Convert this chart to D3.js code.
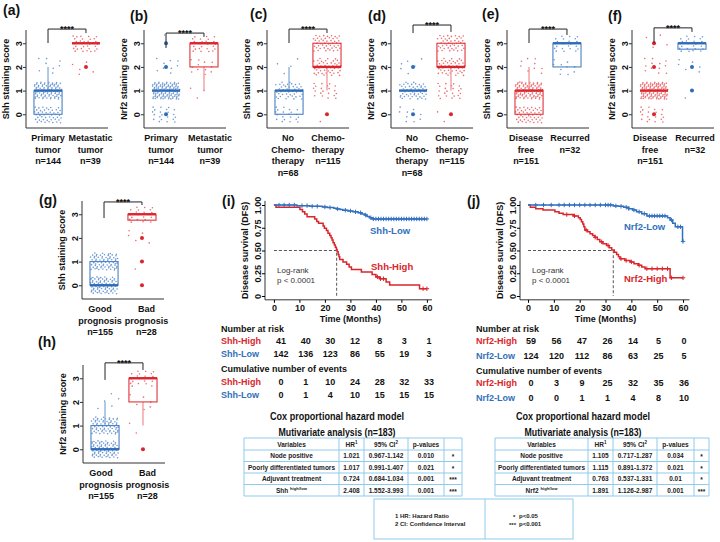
<!DOCTYPE html>
<html><head><meta charset="utf-8">
<script src="https://cdn.jsdelivr.net/npm/d3@7/dist/d3.min.js"></script>
<style>html,body{margin:0;padding:0;background:#fff;}svg{display:block}</style>
</head><body>
<svg id="chart" width="720" height="542"></svg>
<script>
// ================= DATA =================
const scoreLevels = [0, 1, 2, 3];
const scoreTicks = [0, 1, 2, 3];
// number of patients at each staining score (0,1,2,3)
const shhPrimary = [48, 88, 8, 0],  shhMetastatic = [0, 0, 6, 33];
const nrfPrimary = [22, 112, 9, 1], nrfMetastatic = [0, 3, 12, 24];
const shhNoChemo = [20, 44, 4, 0],  shhChemo = [2, 20, 45, 48];
const nrfNoChemo = [10, 52, 6, 0],  nrfChemo = [3, 22, 45, 45];
const shhFree = [50, 92, 9, 0],     shhRecurred = [0, 0, 10, 22];
const nrfFree = [20, 115, 12, 4],   nrfRecurred = [0, 2, 6, 24];
const shhGood = [80, 75, 0, 0],     shhBad = [1, 1, 5, 21];
const nrfGood = [80, 70, 5, 0],     nrfBad = [1, 2, 6, 19];

// Kaplan-Meier: [month, survival] steps
const kmMonths = [0, 10, 20, 30, 40, 50, 60];
const survTicks = [0, 0.25, 0.5, 0.75, 1];
const shhHighSteps = [[0,1],[0.8,0.975],[10.2,0.95],[11.2,0.925],[12.1,0.9],[13,0.87],[16,0.845],[16.8,0.82],[17.5,0.8],[19.3,0.77],[19.8,0.745],[20.6,0.72],[21.2,0.69],[21.9,0.665],[22.4,0.64],[22.8,0.615],[23.2,0.585],[23.7,0.56],[24.1,0.535],[24.5,0.51],[24.8,0.485],[25.2,0.455],[25.5,0.43],[25.8,0.4],[27.1,0.375],[28.5,0.35],[29.5,0.32],[30.4,0.29],[34.3,0.265],[38.5,0.235],[40,0.21],[41.5,0.19],[44,0.155],[45.4,0.12],[57.1,0.08]];
const shhHighCensor = [40.6, 41.8, 43, 58.5, 60];
const shhLowSteps = [[0,1],[9,0.993],[14,0.986],[19,0.979],[21,0.972],[23.5,0.965],[24.5,0.957],[26,0.95],[27,0.943],[29,0.935],[31,0.925],[33,0.915],[34.5,0.9],[35.5,0.89],[36.5,0.875],[37.5,0.86],[38.5,0.847]];
const shhLowCensor = [2,4,6,8,11,13,15,17,20,22,25,28,30,32,34,36,38,39,40,41,42,43,44,45,46,47,48,49,50,51,52,53,54,55,56,57,58,59,60];
const nrfHighSteps = [[0,1],[0.9,0.975],[3,0.96],[5.8,0.945],[10.4,0.925],[12,0.91],[13.6,0.895],[17.5,0.88],[19.5,0.86],[20.2,0.84],[20.7,0.815],[21.2,0.79],[21.6,0.76],[22,0.725],[23,0.705],[24,0.685],[25,0.665],[25.9,0.645],[26.8,0.62],[27.8,0.595],[29,0.575],[30.4,0.555],[31.4,0.53],[32.4,0.505],[33.4,0.48],[34.3,0.455],[35,0.43],[35.6,0.41],[37.5,0.39],[39.5,0.375],[41,0.355],[42.7,0.338],[44,0.32],[45.3,0.3],[55,0.2]];
const nrfHighCensor = [15,18,22.5,26,28.5,31,36,38,40,43,46,48,50,52,54,55.5,60];
const nrfLowSteps = [[0,1],[33,0.99],[35,0.985],[37,0.975],[39,0.96],[40.5,0.945],[42,0.926],[44,0.905],[46,0.88],[54,0.86],[55,0.835],[56,0.8],[57,0.76],[59.8,0.6]];
const nrfLowCensor = [3,6,9,12,14,16,18,20,22,24,26,28,30,31,32,34,36,38,39,41,43,45,47,48,49,50,51,52,53,55.5,58,59,60];
const medianMonths = [24.6, 33];

// Numbers at risk / cumulative events
const shhHighRisk = [41, 40, 30, 12, 8, 3, 1],  shhLowRisk = [142, 136, 123, 86, 55, 19, 3];
const shhHighEvents = [0, 1, 10, 24, 28, 32, 33], shhLowEvents = [0, 1, 4, 10, 15, 15, 15];
const nrfHighRisk = [59, 56, 47, 26, 14, 5, 0], nrfLowRisk = [124, 120, 112, 86, 63, 25, 5];
const nrfHighEvents = [0, 3, 9, 25, 32, 35, 36], nrfLowEvents = [0, 0, 1, 1, 4, 8, 10];

// Cox tables
const coxVariables = ['Node positive', 'Poorly differentiated tumors', 'Adjuvant treatment'];
const shhHR = ['1.021', '1.017', '0.724', '2.408'];
const shhCI = ['0.967-1.142', '0.991-1.407', '0.684-1.034', '1.552-3.993'];
const shhP = ['0.010', '0.021', '0.001', '0.001'];
const shhSig = ['*', '*', '***', '***'];
const nrfHR = ['1.105', '1.115', '0.763', '1.891'];
const nrfCI = ['0.717-1.287', '0.891-1.372', '0.537-1.331', '1.126-2.987'];
const nrfP = ['0.034', '0.021', '0.01', '0.001'];
const nrfSig = ['*', '*', '*', '***'];

// ================= STYLE =================
const FONT = '"Liberation Sans", Arial, Helvetica, sans-serif';
const COL = {
  b: {box: '#4a80c6', med: '#2f6cb8', pt: '#4a80c6', wh: '#7fa6d8'},
  r: {box: '#e0333a', med: '#d9252d', pt: '#e3474d', wh: '#f08d90'}
};
const RED = '#d8262d', BLUE = '#3270bd';
const TBL = '#8fcbea';

const svg = d3.select('#chart');

function txt(g, x, y, s, o = {}) {
  const t = g.append('text').attr('x', x).attr('y', y).text(s)
    .attr('font-size', o.size || 9).attr('font-weight', o.weight || 'bold')
    .attr('text-anchor', o.anchor || 'start').attr('fill', o.fill || '#111')
    .attr('font-family', FONT);
  if (o.rotate) t.attr('transform', `rotate(-90,${x},${y})`);
  if (o.len) t.attr('textLength', o.len).attr('lengthAdjust', 'spacingAndGlyphs');
  return t;
}

// ================= BOX PLOTS =================
const boxPanels = [
  {tag:'(a)', tx:3, ty:15, ax:26, bottom:128, ylab:'Shh staining score', br:[3.60,3.01,3.43], lo:[0,4.5],
   groups:[{c:shhPrimary, k:'b', lines:['Primary','tumor','n=144']},{c:shhMetastatic, k:'r', lines:['Metastatic','tumor','n=39']}]},
  {tag:'(b)', tx:130, ty:21, ax:144, bottom:128, ylab:'Nrf2 staining score', br:[3.43,2.80,3.27], lo:[-5,6],
   groups:[{c:nrfPrimary, k:'b', lines:['Primary','tumor','n=144']},{c:nrfMetastatic, k:'r', lines:['Metastatic','tumor','n=39']}]},
  {tag:'(c)', tx:250, ty:19, ax:267, bottom:128, ylab:'Shh staining score', br:[3.60,3.01,3.43], lo:[-1,1],
   groups:[{c:shhNoChemo, k:'b', lines:['No','Chemo-','therapy','n=68']},{c:shhChemo, k:'r', lines:['Chemo-','therapy','n=115']}]},
  {tag:'(d)', tx:368, ty:21, ax:391, bottom:128, ylab:'Nrf2 staining score', br:[3.77,3.43,3.48], lo:[-1,1],
   groups:[{c:nrfNoChemo, k:'b', lines:['No','Chemo-','therapy','n=68']},{c:nrfChemo, k:'r', lines:['Chemo-','therapy','n=115']}]},
  {tag:'(e)', tx:482, ty:19, ax:507, bottom:128, ylab:'Shh staining score', br:[3.60,3.01,3.35], lo:[-3,3],
   groups:[{c:shhFree, k:'r', lines:['Disease','free','n=151']},{c:shhRecurred, k:'b', lines:['Recurred','n=32']}]},
  {tag:'(f)', tx:608, ty:21, ax:632, bottom:128, ylab:'Nrf2 staining score', br:[3.65,3.01,3.48], lo:[-4,3],
   groups:[{c:nrfFree, k:'r', lines:['Disease','free','n=151']},{c:nrfRecurred, k:'b', lines:['Recurred','n=32']}]},
  {tag:'(g)', tx:39, ty:205, ax:82, bottom:299, ylab:'Shh staining score', br:[3.52,2.84,3.39], lo:[-4,4.5],
   groups:[{c:shhGood, k:'b', lines:['Good','prognosis','n=155']},{c:shhBad, k:'r', lines:['Bad','prognosis','n=28']}]},
  {tag:'(h)', tx:38, ty:347, ax:83, bottom:463, ylab:'Nrf2 staining score', br:[3.65,2.93,3.35], lo:[-4,4.5],
   groups:[{c:nrfGood, k:'b', lines:['Good','prognosis','n=155']},{c:nrfBad, k:'r', lines:['Bad','prognosis','n=28']}]}
];

const frac = v => v - Math.floor(v);
function expand(counts) { const v = []; counts.forEach((c, i) => { for (let k = 0; k < c; k++) v.push(scoreLevels[i]); }); return v; }
function boxStats(vals) {
  const s = vals.slice().sort(d3.ascending);
  const q1 = d3.quantile(s, .25), med = d3.quantile(s, .5), q3 = d3.quantile(s, .75);
  const iqr = q3 - q1;
  const lo = d3.min(s.filter(v => v >= q1 - 1.5 * iqr)), hi = d3.max(s.filter(v => v <= q3 + 1.5 * iqr));
  const out = Array.from(new Set(s.filter(v => v < lo || v > hi)));
  return {s, q1, med, q3, lo, hi, out};
}

boxPanels.forEach(p => {
  const g = svg.append('g');
  const W = 82;
  const y = d3.scaleLinear().domain([-0.58, 3.56]).range([p.bottom, p.bottom - 98]);
  const x = d3.scaleLinear().domain([0.42, 2.58]).range([p.ax, p.ax + W]);
  const u = x(1) - x(0);
  txt(g, p.tx, p.ty, p.tag, {size: 14});
  // frame (L)
  g.append('path').attr('d', `M${p.ax},${y(3.56)}V${p.bottom}H${p.ax + W}`)
    .attr('fill', 'none').attr('stroke', '#333').attr('stroke-width', 1);
  const ag = g.append('g').attr('transform', `translate(${p.ax},0)`)
    .call(d3.axisLeft(y).tickValues(scoreTicks).tickSize(3).tickFormat(d3.format('d')));
  ag.select('.domain').remove();
  ag.selectAll('line').attr('stroke', '#333');
  ag.selectAll('text').attr('x', 0).attr('y', -4.5).attr('dy', 0).attr('text-anchor', 'middle')
    .attr('transform', 'rotate(-90)').attr('font-size', 9).attr('font-weight', 'bold')
    .attr('font-family', FONT).attr('fill', '#111');
  txt(g, p.ax - 17, (y(3.56) + p.bottom) / 2, p.ylab, {rotate: true, anchor: 'middle', size: 9});

  p.groups.forEach((gr, gi) => {
    const cx = x(gi + 1);
    const col = COL[gr.k];
    const st = boxStats(expand(gr.c));
    const bw = 0.74 * u;
    // jittered points
    g.append('g').selectAll('circle').data(st.s).join('circle')
      .attr('cx', (v, i) => cx + (frac(0.5 + i * 0.7548776662) - 0.5) * 0.72 * u)
      .attr('cy', (v, i) => y(v + (frac(0.5 + i * 0.5698402910) - 0.5) * 0.72))
      .attr('r', 0.8).attr('fill', col.pt).attr('fill-opacity', 0.8);
    // whiskers
    if (st.hi > st.q3) g.append('line').attr('x1', cx).attr('x2', cx).attr('y1', y(st.q3)).attr('y2', y(st.hi)).attr('stroke', col.wh).attr('stroke-width', 1.2);
    if (st.lo < st.q1) g.append('line').attr('x1', cx).attr('x2', cx).attr('y1', y(st.q1)).attr('y2', y(st.lo)).attr('stroke', col.wh).attr('stroke-width', 1.2);
    // box
    if (st.q3 > st.q1)
      g.append('rect').attr('x', cx - bw / 2).attr('width', bw).attr('y', y(st.q3)).attr('height', y(st.q1) - y(st.q3))
        .attr('fill', 'none').attr('stroke', col.box).attr('stroke-width', 1.1);
    g.append('line').attr('x1', cx - bw / 2).attr('x2', cx + bw / 2).attr('y1', y(st.med)).attr('y2', y(st.med))
      .attr('stroke', col.med).attr('stroke-width', 2.4);
    // outliers
    g.append('g').selectAll('circle').data(st.out).join('circle')
      .attr('cx', cx).attr('cy', v => y(v)).attr('r', 2).attr('fill', col.med);
    // category labels
    gr.lines.forEach((l, li) => txt(g, cx + p.lo[gi], p.bottom + 13 + li * 11.5, l, {anchor: 'middle', size: 9}));
  });
  // significance bracket
  const x1 = x(1), x2 = x(2);
  g.append('path').attr('d', `M${x1},${y(p.br[1])}V${y(p.br[0])}H${x2}V${y(p.br[2])}`)
    .attr('fill', 'none').attr('stroke', '#222').attr('stroke-width', 1);
  txt(g, (x1 + x2) / 2, y(p.br[0]) + 3, '****', {anchor: 'middle', size: 9});
});

// ================= KAPLAN-MEIER =================
const kmPanels = [
  {tag:'(i)', tx:222, ty:206, ax:265, xd:[-3.5, 62], xr:[265, 432], med:medianMonths[0],
   curves:[{steps:shhHighSteps, cen:shhHighCensor, c:RED},{steps:shhLowSteps, cen:shhLowCensor, c:BLUE}],
   labLow:['Shh-Low', 370, 234], labHigh:['Shh-High', 371, 270], logX:277,
   riskX:[281, 429], tx0:221, names:['Shh-High','Shh-Low'],
   rows:[shhHighRisk, shhLowRisk, shhHighEvents, shhLowEvents], ry:[331.5, 343.5, 356.5, 371.5, 384.5, 397.5]},
  {tag:'(j)', tx:467, ty:206, ax:520, xd:[-3.1, 62.5], xr:[520, 689.5], med:medianMonths[1],
   curves:[{steps:nrfHighSteps, cen:nrfHighCensor, c:RED},{steps:nrfLowSteps, cen:nrfLowCensor, c:BLUE}],
   labLow:['Nrf2-Low', 624, 230], labHigh:['Nrf2-High', 624, 282], logX:532,
   riskX:[531, 684], tx0:476, names:['Nrf2-High','Nrf2-Low'],
   rows:[nrfHighRisk, nrfLowRisk, nrfHighEvents, nrfLowEvents], ry:[331.5, 343.5, 358.5, 373.5, 385.5, 400.5]}
];

function survAt(steps, t) { let s = 1; steps.forEach(d => { if (d[0] <= t) s = d[1]; }); return s; }

kmPanels.forEach(p => {
  const g = svg.append('g');
  const x = d3.scaleLinear().domain(p.xd).range(p.xr);
  const y = d3.scaleLinear().domain([0, 1]).range([296, 205]);
  txt(g, p.tx, p.ty, p.tag, {size: 14});
  g.append('path').attr('d', `M${p.ax},${y(1.045)}V${y(-0.042)}H${p.xr[1]}`)
    .attr('fill', 'none').attr('stroke', '#333').attr('stroke-width', 1);
  const ay = g.append('g').attr('transform', `translate(${p.ax},0)`)
    .call(d3.axisLeft(y).tickValues(survTicks).tickSize(3).tickFormat(d => d === 0 ? '0' : d3.format('.2f')(d)));
  ay.select('.domain').remove();
  ay.selectAll('text').attr('x', 0).attr('y', -4.5).attr('dy', 0).attr('text-anchor', 'middle')
    .attr('transform', 'rotate(-90)').attr('font-size', 9).attr('font-weight', 'bold').attr('font-family', FONT).attr('fill', '#111');
  const ax = g.append('g').attr('transform', `translate(0,${y(-0.042)})`)
    .call(d3.axisBottom(x).tickValues(kmMonths).tickSize(3).tickPadding(2));
  ax.select('.domain').remove();
  ax.selectAll('text').attr('font-size', 9).attr('font-weight', 'bold').attr('font-family', FONT).attr('fill', '#111');
  txt(g, p.ax - 17, (y(1.045) + y(-0.042)) / 2, 'Disease survival (DFS)', {rotate: true, anchor: 'middle', size: 9});
  txt(g, (x(0) + x(60)) / 2, 322, 'Time (Months)', {anchor: 'middle', size: 9});

  // median dashed lines
  g.append('path').attr('d', `M${x(0)},${y(0.5)}H${x(p.med)}V${y(0)}`)
    .attr('fill', 'none').attr('stroke', '#444').attr('stroke-width', 0.9).attr('stroke-dasharray', '3,2');

  const line = d3.line().x(d => x(d[0])).y(d => y(d[1])).curve(d3.curveStepAfter);
  p.curves.forEach(cv => {
    const pts = cv.steps.concat([[60, cv.steps[cv.steps.length - 1][1]]]);
    g.append('path').attr('d', line(pts)).attr('fill', 'none').attr('stroke', cv.c).attr('stroke-width', 1.5);
    g.append('g').selectAll('path').data(cv.cen).join('path')
      .attr('d', t => { const cx = x(t), cy = y(survAt(cv.steps, t)); return `M${cx - 2.2},${cy}H${cx + 2.2}M${cx},${cy - 2.2}V${cy + 2.2}`; })
      .attr('stroke', cv.c).attr('stroke-width', 1);
  });
  txt(g, p.labLow[1], p.labLow[2], p.labLow[0], {size: 9.5, fill: BLUE});
  txt(g, p.labHigh[1], p.labHigh[2], p.labHigh[0], {size: 9.5, fill: RED});
  txt(g, p.logX, 272.5, 'Log-rank', {size: 8, weight: 'normal', fill: '#333'});
  txt(g, p.logX, 283, 'p < 0.0001', {size: 8, weight: 'normal', fill: '#333'});

  // risk tables
  const rx = d3.scaleLinear().domain([0, 60]).range(p.riskX);
  txt(g, p.tx0, p.ry[0], 'Number at risk', {size: 9});
  txt(g, p.tx0, p.ry[3], 'Cumulative number of events', {size: 9});
  const rowY = [p.ry[1], p.ry[2], p.ry[4], p.ry[5]];
  p.rows.forEach((row, ri) => {
    const c = ri % 2 === 0 ? RED : BLUE;
    txt(g, p.tx0, rowY[ri], p.names[ri % 2], {size: 9, fill: c});
    row.forEach((v, vi) => txt(g, rx(kmMonths[vi]), rowY[ri], String(v), {size: 9, anchor: 'middle'}));
  });
});

// ================= COX TABLES =================
function coxTable(cols, marker, hr, ci, pv, sig, titleX) {
  const g = svg.append('g');
  txt(g, titleX, 420, 'Cox proportional hazard model', {size: 11, anchor: 'middle', len: 134});
  txt(g, titleX, 436, 'Mutivariate analysis (n=183)', {size: 11, anchor: 'middle', len: 117});
  const ys = [438, 450, 461.5, 473, 484.5, 496];
  const x0 = cols[0], x1 = cols[cols.length - 1];
  ys.forEach(yy => g.append('line').attr('x1', x0).attr('x2', x1).attr('y1', yy).attr('y2', yy).attr('stroke', TBL).attr('stroke-width', 1));
  cols.forEach(xx => g.append('line').attr('x1', xx).attr('x2', xx).attr('y1', ys[0]).attr('y2', ys[5]).attr('stroke', TBL).attr('stroke-width', 1));
  const mid = i => (cols[i] + cols[i + 1]) / 2;
  const o = {size: 6.5, anchor: 'middle', fill: '#222'};
  const hy = 446.5;
  txt(g, mid(0), hy, 'Variables', o);
  const h1 = txt(g, mid(1), hy, 'HR', o); h1.append('tspan').attr('font-size', 4.5).attr('dy', -2.5).text('1');
  const h2 = txt(g, mid(2), hy, '95% CI', o); h2.append('tspan').attr('font-size', 4.5).attr('dy', -2.5).text('2');
  txt(g, mid(3), hy, 'p-values', o);
  const names = coxVariables.concat([marker]);
  names.forEach((n, i) => {
    const yy = ys[i + 1] + 8.2;
    const t = txt(g, mid(0), yy, n + (i === 3 ? ' ' : ''), o);
    if (i === 3) t.append('tspan').attr('font-size', 4.2).attr('dy', -2.5).text('high/low');
    txt(g, mid(1), yy, hr[i], o);
    txt(g, mid(2), yy, ci[i], o);
    txt(g, mid(3), yy, pv[i], o);
    txt(g, mid(4), yy + 1, sig[i], o);
  });
}
coxTable([244, 339, 364, 408, 444, 462], 'Shh', shhHR, shhCI, shhP, shhSig, 337);
coxTable([495, 588, 613, 657, 694, 709], 'Nrf2', nrfHR, nrfCI, nrfP, nrfSig, 583);

// footnote box
(function () {
  const g = svg.append('g');
  g.append('rect').attr('x', 374).attr('y', 499).attr('width', 199).attr('height', 40).attr('fill', 'none').attr('stroke', TBL);
  g.append('line').attr('x1', 485).attr('x2', 485).attr('y1', 499).attr('y2', 539).attr('stroke', TBL);
  const o = {size: 6, fill: '#222'};
  txt(g, 395, 518, '1 HR: Hazard Ratio', o);
  txt(g, 395, 526, '2 CI: Confidence Interval', o);
  txt(g, 513, 519, '*', o); txt(g, 519, 518, 'p<0.05', o);
  txt(g, 509, 527, '***', o); txt(g, 519, 526, 'p<0.001', o);
})();
</script>
</body></html>
